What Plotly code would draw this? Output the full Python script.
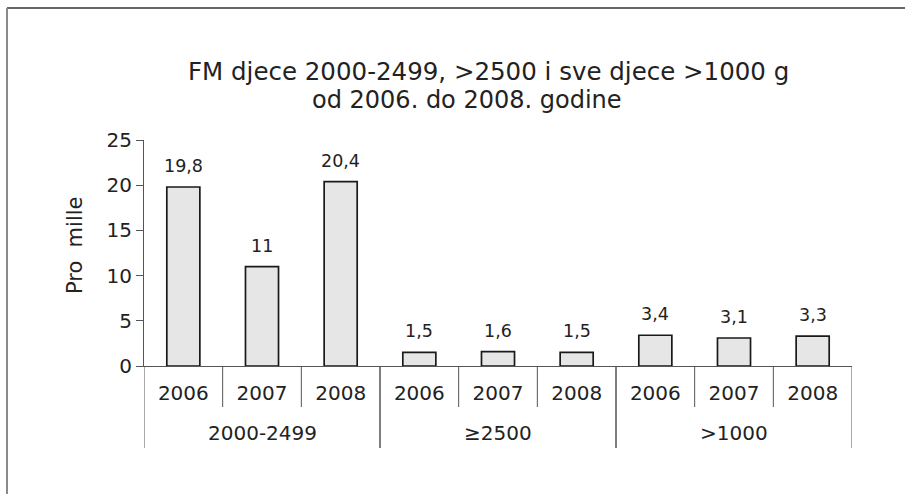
import plotly.graph_objects as go

groups = ["2000-2499", "2000-2499", "2000-2499",
          "≥2500", "≥2500", "≥2500",
          ">1000", ">1000", ">1000"]
years = ["2006", "2007", "2008"] * 3
values = [19.8, 11, 20.4, 1.5, 1.6, 1.5, 3.4, 3.1, 3.3]
value_labels = ["19,8", "11", "20,4", "1,5", "1,6", "1,5", "3,4", "3,1", "3,3"]

title_line1 = "FM djece 2000-2499, >2500 i sve djece >1000 g"
title_line2 = "od 2006. do 2008. godine"
y_title = "Pro\u00a0\u00a0mille"

FONT = "DejaVu Sans"
TXT = "#222222"
AX = "#555555"

# plot-area geometry (pixels) used to convert pixel offsets into paper units
PLOT_H = 226
TICK_PAPER = -41 / PLOT_H       # inner year boundary ticks length
DIV_PAPER = -82 / PLOT_H        # group divider length
GROUP_LABEL_PAPER = -67 / PLOT_H

pos = list(range(len(values)))

fig = go.Figure()
fig.add_trace(go.Bar(
    x=pos, y=values, width=0.42,
    marker=dict(color="#e6e6e6", line=dict(color="#1a1a1a", width=1.7)),
    showlegend=False, hoverinfo="skip",
))

annotations = []
for i, (v, t) in enumerate(zip(values, value_labels)):
    annotations.append(dict(x=pos[i], y=v, xref="x", yref="y", text=t, showarrow=False,
                            yanchor="bottom", yshift=9,
                            font=dict(family=FONT, size=17.5, color=TXT)))

# group labels and dividers derived from the group list
shapes = []
group_names = []
group_members = {}
for i, g in enumerate(groups):
    if g not in group_members:
        group_names.append(g)
        group_members[g] = []
    group_members[g].append(pos[i])
for g in group_names:
    members = group_members[g]
    center = sum(members) / len(members)
    annotations.append(dict(x=center, y=GROUP_LABEL_PAPER, xref="x", yref="paper", text=g,
                            showarrow=False, yanchor="middle",
                            font=dict(family=FONT, size=20, color=TXT)))
    for edge in (min(members) - 0.5, max(members) + 0.5):
        shapes.append(dict(type="line", xref="x", yref="paper", x0=edge, x1=edge,
                           y0=0, y1=DIV_PAPER, line=dict(color=AX, width=1)))
    for b in members[:-1]:
        shapes.append(dict(type="line", xref="x", yref="paper", x0=b + 0.5, x1=b + 0.5,
                           y0=0, y1=TICK_PAPER, line=dict(color=AX, width=1)))

annotations.append(dict(x=0.487, y=1.301, xref="paper", yref="paper", text=title_line1,
                        showarrow=False, xanchor="center", yanchor="middle",
                        font=dict(family=FONT, size=24.5, color=TXT)))
annotations.append(dict(x=0.456, y=1.177, xref="paper", yref="paper", text=title_line2,
                        showarrow=False, xanchor="center", yanchor="middle",
                        font=dict(family=FONT, size=24, color=TXT)))
# y-axis title
annotations.append(dict(x=-0.0975, y=0.535, xref="paper", yref="paper", text=y_title,
                        showarrow=False, textangle=-90, xanchor="center", yanchor="middle",
                        font=dict(family=FONT, size=21, color=TXT)))

# outer frame (top and left edges of the original figure box)
shapes.append(dict(type="line", xref="paper", yref="paper", x0=-0.1935, x1=1.2, y0=1.584, y1=1.584,
                   line=dict(color="#333333", width=1.5)))
shapes.append(dict(type="line", xref="paper", yref="paper", x0=-0.1935, x1=-0.1935, y0=1.584, y1=-0.7,
                   line=dict(color="#8a8a8a", width=2)))

fig.update_layout(
    width=905, height=494,
    margin=dict(l=144, r=53, t=140, b=128, autoexpand=False),
    paper_bgcolor="white", plot_bgcolor="white",
    font=dict(family=FONT, color=TXT),
    annotations=annotations,
    shapes=shapes,
)
fig.update_yaxes(range=[0, 25], tickvals=[0, 5, 10, 15, 20, 25], ticks="outside", ticklen=7,
                 tickcolor=AX, showline=True, linecolor=AX, linewidth=1, showgrid=False,
                 zeroline=False, tickfont=dict(family=FONT, size=20, color=TXT))
fig.update_xaxes(range=[-0.5, len(values) - 0.5], tickvals=pos, ticktext=years, ticks="",
                 showline=True, linecolor=AX, linewidth=1, showgrid=False, zeroline=False,
                 tickfont=dict(family=FONT, size=20, color=TXT), ticklabelstandoff=9)

fig.write_html("out.html")
